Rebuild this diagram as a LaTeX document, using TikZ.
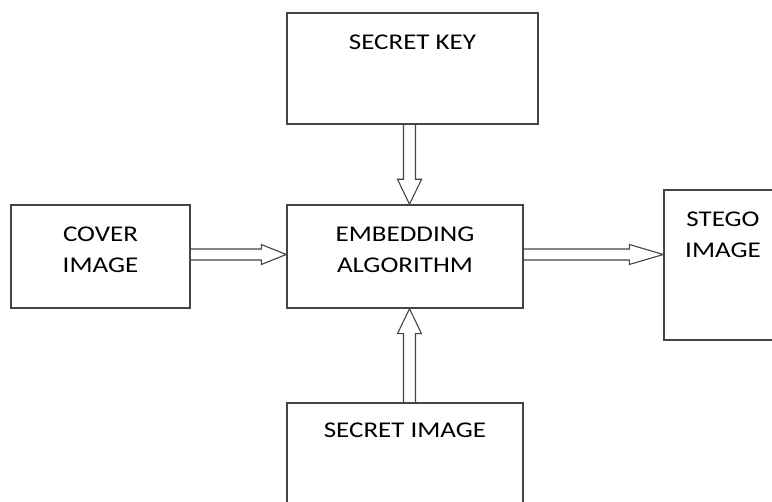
\documentclass[tikz,border=0pt]{standalone}
\usepackage{fontspec}
\setmainfont{Carlito}[FakeStretch=1.2]
\usetikzlibrary{positioning, calc}
\definecolor{edgegray}{HTML}{444444}

\begin{document}
\begin{tikzpicture}[
    x = 1pt, y = 1pt,
    every node/.style = {font=\fontsize{22.5}{31}\selectfont},
    box/.style    = {rectangle, draw=edgegray, line width=1.4pt, inner sep=0pt},
    txt/.style    = {anchor=north, yshift=-22pt, inner sep=0pt, align=center,
                     text=black},
    blk/.style    = {draw=edgegray, line width=1.1pt, line join=miter}
]
\useasboundingbox (0,0) rectangle (772,-502);
\clip (0,0) rectangle (772,-502);

\node[box, minimum width=236, minimum height=103,
      label={[txt]north:EMBEDDING\\ALGORITHM}]  (emb)    at (405,-256.5) {};
\node[box, minimum width=251, minimum height=111,
      label={[txt]north:SECRET KEY}]            (key)    at (412.5,-68.5) {};
\node[box, minimum width=179, minimum height=103,
      label={[txt]north:COVER\\IMAGE}]          (cover)  at (100.5,-256.5) {};
\node[box, minimum width=118, minimum height=150,
      label={[txt]north:STEGO\\IMAGE}]          (stego)  at (723,-265) {};
\node[box, minimum width=236, minimum height=103,
      label={[txt, yshift=2pt]north:SECRET IMAGE}] (secimg) at (405,-454.5) {};

% cover -> embedding
\coordinate (a1) at ([yshift=2]cover.east);
\coordinate (b1) at ([yshift=2]emb.west);
\draw[blk] ([yshift=5.5]a1) -- ([shift={(-25,5.5)}]b1) -- ([shift={(-25,10)}]b1) -- (b1)
    -- ([shift={(-25,-10)}]b1) -- ([shift={(-25,-5.5)}]b1) -- ([yshift=-5.5]a1);

% secret key -> embedding
\coordinate (b2) at ([xshift=4.5]emb.north);
\coordinate (a2) at (b2 |- key.south);
\draw[blk] ([xshift=-6]a2) -- ([shift={(-6,25)}]b2) -- ([shift={(-12,25)}]b2) -- (b2)
    -- ([shift={(12,25)}]b2) -- ([shift={(6,25)}]b2) -- ([xshift=6]a2);

% secret image -> embedding
\coordinate (b3) at ([xshift=4.5]emb.south);
\coordinate (a3) at (b3 |- secimg.north);
\draw[blk] ([xshift=-6]a3) -- ([shift={(-6,-25)}]b3) -- ([shift={(-12,-25)}]b3) -- (b3)
    -- ([shift={(12,-25)}]b3) -- ([shift={(6,-25)}]b3) -- ([xshift=6]a3);

% embedding -> stego
\coordinate (a4) at ([yshift=2]emb.east);
\coordinate (b4) at (a4 -| stego.west);
\draw[blk] ([yshift=5.5]a4) -- ([shift={(-34,5.5)}]b4) -- ([shift={(-34,10)}]b4) -- (b4)
    -- ([shift={(-34,-10)}]b4) -- ([shift={(-34,-5.5)}]b4) -- ([yshift=-5.5]a4);
\end{tikzpicture}
\end{document}
